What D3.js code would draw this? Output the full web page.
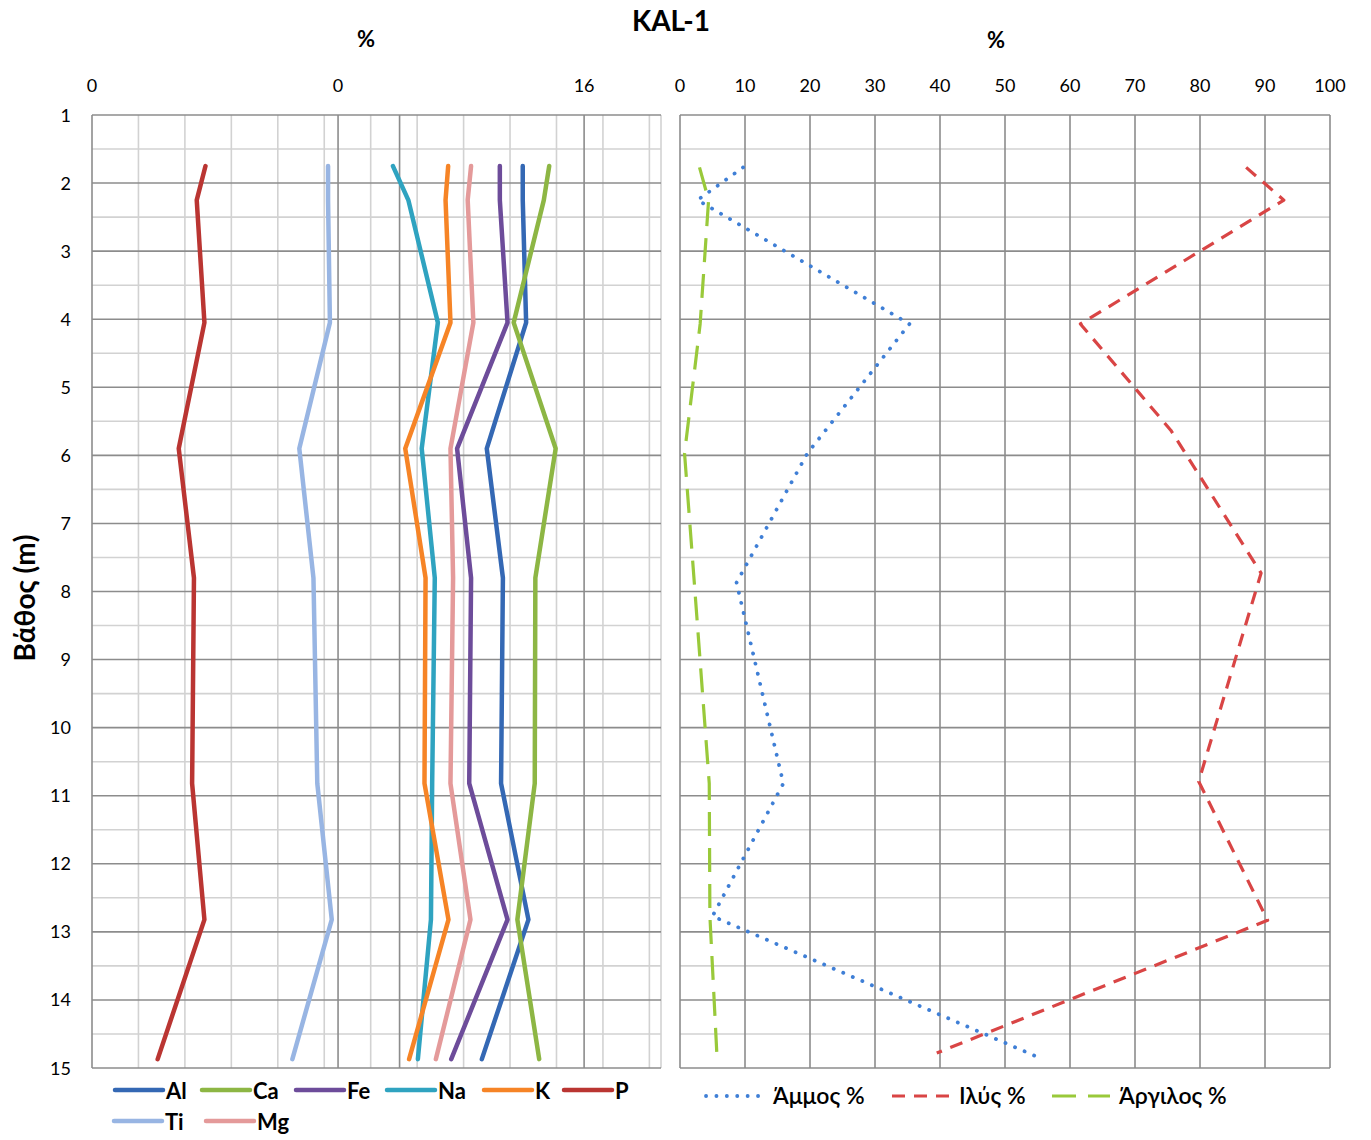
<!DOCTYPE html>
<html><head><meta charset="utf-8">
<script src="https://cdn.jsdelivr.net/npm/d3@7"></script>
<style>
body{margin:0;background:#fff;}
svg{display:block;}
text{font-family:Lato,'Open Sans','Noto Sans',sans-serif;fill:#000;}
</style>
</head><body>
<svg id="c" width="1371" height="1140"></svg>
<script>
// ---------- DATA ----------
const depthTicks = d3.range(1, 16);
const leftTickValues = [-16, 0, 16];
const leftTickLabels = ["0", "0", "16"];
const rightTickValues = [0, 10, 20, 30, 40, 50, 60, 70, 80, 90, 100];

// Left panel: element profiles (values on the shared plotted % axis)
const depthsChem = [1.75, 2.25, 4.05, 5.9, 7.8, 10.82, 12.82, 14.87];
const Al = [12.01, 12.01, 12.23, 9.67, 10.72, 10.60, 12.38, 9.35];
const Ca = [13.73, 13.38, 11.42, 14.15, 12.83, 12.79, 11.66, 13.08];
const Fe = [10.52, 10.52, 11.02, 7.74, 8.65, 8.53, 11.02, 7.36];
const Na = [3.57, 4.57, 6.49, 5.44, 6.29, 6.12, 6.04, 5.19];
const K  = [7.16, 6.99, 7.31, 4.37, 5.69, 5.62, 7.18, 4.62];
const P  = [-8.62, -9.19, -8.69, -10.36, -9.37, -9.49, -8.69, -11.73];
const Ti = [-0.65, -0.65, -0.53, -2.52, -1.60, -1.35, -0.41, -2.97];
const Mg = [8.65, 8.43, 8.80, 7.31, 7.48, 7.31, 8.61, 6.36];
const chemNames = ["Al", "Ca", "Fe", "Na", "K", "P", "Ti", "Mg"];
const chemColors = ["#3468b4", "#8db644", "#6d4c9a", "#2fa3c0", "#f68426", "#ba3532", "#98b5e3", "#e49a9a"];

// Right panel: grain size %
const depthsSand = [1.77, 2.25, 4.07, 5.97, 7.87, 10.82, 12.77, 14.85];
const sand = [9.7, 2.7, 35.3, 19.6, 8.7, 15.9, 5.0, 55.3];
const depthsSilt = [1.77, 2.25, 4.07, 5.63, 7.73, 10.79, 12.83, 14.78];
const silt = [87.1, 92.9, 61.6, 75.5, 89.4, 79.8, 90.4, 39.5];
const depthsClay = [1.77, 2.25, 4.07, 5.97, 7.87, 10.82, 12.77, 14.85];
const clay = [3.0, 4.4, 3.1, 0.7, 2.2, 4.5, 4.6, 5.7];
const grainNames = ["Άμμος %", "Ιλύς %", "Άργιλος %"];
const grainColors = ["#3f7fd6", "#d94545", "#99c93a"];

// ---------- CHART ----------
const svg = d3.select('#c');
const y = d3.scaleLinear().domain([1, 15]).range([115, 1068]);
const xL = d3.scaleLinear().domain([-16, 21]).range([92, 661]);
const xLminor = d3.scaleLinear().domain([0, 12.25]).range(xL.range());
const xR = d3.scaleLinear().domain([0, 100]).range([680, 1330]);

const DARK = '#8c8c8c', LIGHT = '#d2d2d2';
const halfDepths = d3.range(1.5, 15, 1);

function hLines(g, x0, x1, vals, col) {
  g.selectAll(null).data(vals).enter().append('line')
    .attr('x1', x0).attr('x2', x1)
    .attr('y1', d => y(d)).attr('y2', d => y(d))
    .attr('stroke', col).attr('stroke-width', 1.6);
}
function vLines(g, xs, col) {
  g.selectAll(null).data(xs).enter().append('line')
    .attr('x1', d => d).attr('x2', d => d)
    .attr('y1', y(1)).attr('y2', y(15))
    .attr('stroke', col).attr('stroke-width', 1.6);
}

// Left grid
const gl = svg.append('g');
hLines(gl, xL(-16), xL(21), halfDepths, LIGHT);
vLines(gl, d3.range(1, 13).map(v => xLminor(v)).concat([xL(21)]), LIGHT);
hLines(gl, xL(-16), xL(21), depthTicks, DARK);
vLines(gl, [xL(-16), xL(0), xL(4), xL(16)], DARK);

// Right grid
const gr = svg.append('g');
hLines(gr, xR(0), xR(100), halfDepths, LIGHT);
hLines(gr, xR(0), xR(100), depthTicks, DARK);
vLines(gr, rightTickValues.map(v => xR(v)), DARK);

// Axis labels
svg.append('g').selectAll(null).data(depthTicks).enter().append('text')
  .attr('x', 71).attr('y', d => y(d) + 6.5).attr('text-anchor', 'end')
  .attr('font-size', 18).attr('fill', '#222').text(d => d);
svg.append('g').selectAll(null).data(leftTickValues).enter().append('text')
  .attr('x', d => xL(d)).attr('y', 92).attr('text-anchor', 'middle')
  .attr('font-size', 18).text((d, i) => leftTickLabels[i]);
svg.append('g').selectAll(null).data(rightTickValues).enter().append('text')
  .attr('x', d => xR(d)).attr('y', 92).attr('text-anchor', 'middle')
  .attr('font-size', 18).text(d => d);

// Titles
svg.append('text').attr('x', 671).attr('y', 31).attr('text-anchor', 'middle')
  .attr('font-size', 28).attr('font-weight', 'bold').text('KAL-1');
svg.append('text').attr('x', 366).attr('y', 47).attr('text-anchor', 'middle')
  .attr('font-size', 22).attr('font-weight', 'bold').text('%');
svg.append('text').attr('x', 996).attr('y', 48).attr('text-anchor', 'middle')
  .attr('font-size', 22).attr('font-weight', 'bold').text('%');
svg.append('text').attr('transform', 'translate(35,598) rotate(-90)')
  .attr('text-anchor', 'middle').attr('font-size', 28).attr('font-weight', 'bold')
  .text('Βάθος (m)');

// Left series
const chemSeries = [Al, Ca, Fe, Na, K, P, Ti, Mg];
const lineL = d3.line().x(d => xL(d[0])).y(d => y(d[1]));
chemSeries.forEach((vals, i) => {
  svg.append('path')
    .datum(vals.map((v, j) => [v, depthsChem[j]]))
    .attr('d', lineL).attr('fill', 'none')
    .attr('stroke', chemColors[i]).attr('stroke-width', 4.5)
    .attr('stroke-linejoin', 'round').attr('stroke-linecap', 'round');
});

// Right series
const lineR = d3.line().x(d => xR(d[0])).y(d => y(d[1]));
const grainSeries = [[sand, depthsSand], [silt, depthsSilt], [clay, depthsClay]];
const grainStyle = [
  {w: 3.8, dash: '0.1 10.3', cap: 'round'},
  {w: 3.2, dash: '13 9', cap: 'butt'},
  {w: 3.2, dash: '24 12', cap: 'butt'}
];
grainSeries.forEach(([vals, ds], i) => {
  svg.append('path')
    .datum(vals.map((v, j) => [v, ds[j]]))
    .attr('d', lineR).attr('fill', 'none')
    .attr('stroke', grainColors[i]).attr('stroke-width', grainStyle[i].w)
    .attr('stroke-dasharray', grainStyle[i].dash)
    .attr('stroke-linecap', grainStyle[i].cap).attr('stroke-linejoin', 'round');
});

// Left legend
const legL = [[115, 1090], [202, 1090], [296, 1090], [387, 1090], [484, 1090], [564, 1090], [114, 1121], [206, 1121]];
chemNames.forEach((n, i) => {
  const [lx, ly] = legL[i];
  svg.append('line').attr('x1', lx).attr('x2', lx + 48).attr('y1', ly).attr('y2', ly)
    .attr('stroke', chemColors[i]).attr('stroke-width', 4.5).attr('stroke-linecap', 'round');
  svg.append('text').attr('x', lx + 51).attr('y', ly + 8.5)
    .attr('font-size', 22).attr('font-weight', 'bold').text(n);
});

// Right legend
const legR = [706, 892, 1052];
grainNames.forEach((n, i) => {
  const lx = legR[i], ly = 1096;
  svg.append('line').attr('x1', lx).attr('x2', lx + 58).attr('y1', ly).attr('y2', ly)
    .attr('stroke', grainColors[i]).attr('stroke-width', grainStyle[i].w)
    .attr('stroke-dasharray', grainStyle[i].dash).attr('stroke-linecap', grainStyle[i].cap);
  svg.append('text').attr('x', lx + 67).attr('y', ly + 8)
    .attr('font-size', 23).attr('font-weight', 600).text(n);
});
</script>
</body></html>
